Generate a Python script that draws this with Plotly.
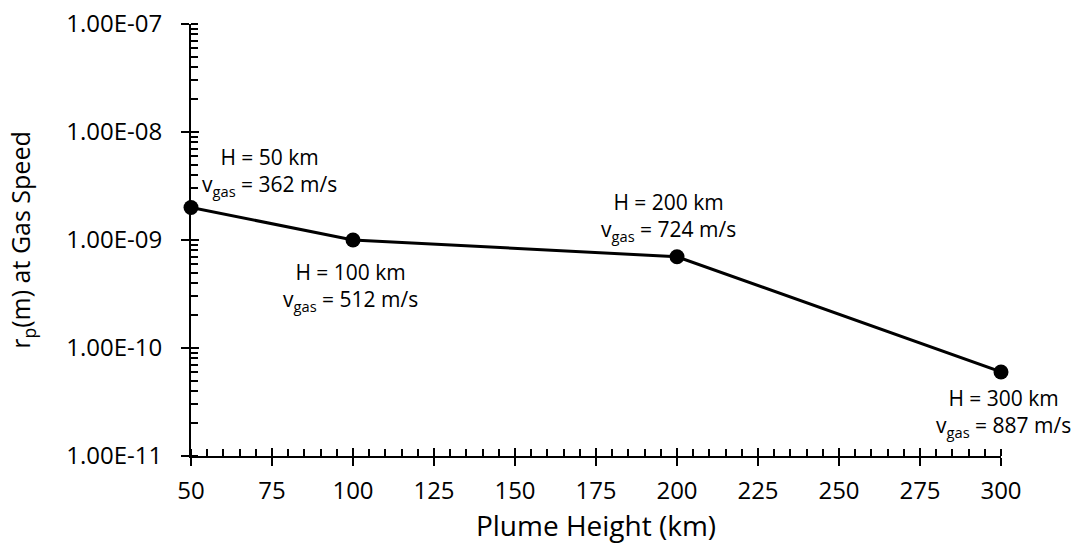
import math
import plotly.graph_objects as go

heights = [50, 100, 200, 300]
radius = [2e-9, 1e-9, 7e-10, 6e-11]
vgas = [362, 512, 724, 887]
ytick_vals = [1e-11, 1e-10, 1e-9, 1e-8, 1e-7]
ytick_text = ["1.00E-11", "1.00E-10", "1.00E-09", "1.00E-08", "1.00E-07"]
xtick_vals = [50, 75, 100, 125, 150, 175, 200, 225, 250, 275, 300]

FONT = "Open Sans, sans-serif"

fig = go.Figure()
fig.add_trace(go.Scatter(
    x=heights, y=radius, mode="lines+markers",
    line=dict(color="black", width=3),
    marker=dict(color="black", size=15),
    cliponaxis=False,
    showlegend=False,
))
# invisible trace on overlay axes for crossing major ticks
fig.add_trace(go.Scatter(x=heights, y=radius, xaxis="x2", yaxis="y2",
                         mode="markers", marker=dict(opacity=0), showlegend=False,
                         hoverinfo="skip"))

offsets = [(78, 35), (-3, -47), (-9, 40), (2, -41)]
for h, r, v, (dx, dy) in zip(heights, radius, vgas, offsets):
    fig.add_annotation(
        x=h, y=math.log10(r), yref="y", xref="x",
        text=f"H = {h} km<br>v<sub>gas</sub> = {v} m/s",
        showarrow=False, xanchor="center", yanchor="middle",
        xshift=dx, yshift=dy,
        font=dict(family=FONT, size=21, color="black"),
    )

fig.update_layout(
    width=1076, height=546,
    margin=dict(l=191, r=75, t=24, b=90),
    paper_bgcolor="white", plot_bgcolor="white",
    font=dict(family=FONT, color="black"),
    xaxis=dict(
        range=[50, 300], tickvals=xtick_vals, automargin=False,
        showline=True, linecolor="black", linewidth=2,
        ticks="outside", ticklen=8, tickwidth=2, tickcolor="black",
        minor=dict(ticks="inside", ticklen=7, tickwidth=1.5, tickcolor="black", dtick=5),
        showgrid=False, zeroline=False,
        tickfont=dict(size=24), ticklabelstandoff=4,
        title=dict(text="Plume Height (km)", font=dict(size=28), standoff=8),
    ),
    yaxis=dict(
        type="log", range=[-11, -7], automargin=False,
        tickvals=ytick_vals, ticktext=ytick_text,
        showline=True, linecolor="black", linewidth=2,
        ticks="outside", ticklen=8, tickwidth=2, tickcolor="black",
        minor=dict(ticks="inside", ticklen=7, tickwidth=1.5, tickcolor="black", dtick="D1"),
        showgrid=False, zeroline=False,
        tickfont=dict(size=24), ticklabelstandoff=14,
        title=dict(text="r<sub>p</sub>(m) at Gas Speed", font=dict(size=25), standoff=28),
    ),
    xaxis2=dict(
        overlaying="x", range=[50, 300], tickvals=xtick_vals, automargin=False,
        showticklabels=False, ticks="inside", ticklen=8, tickwidth=2, tickcolor="black",
        showgrid=False, zeroline=False, showline=False, side="bottom",
    ),
    yaxis2=dict(
        overlaying="y", type="log", range=[-11, -7], tickvals=ytick_vals, automargin=False,
        showticklabels=False, ticks="inside", ticklen=8, tickwidth=2, tickcolor="black",
        showgrid=False, zeroline=False, showline=False, side="left",
    ),
)

fig.write_html("out.html")
